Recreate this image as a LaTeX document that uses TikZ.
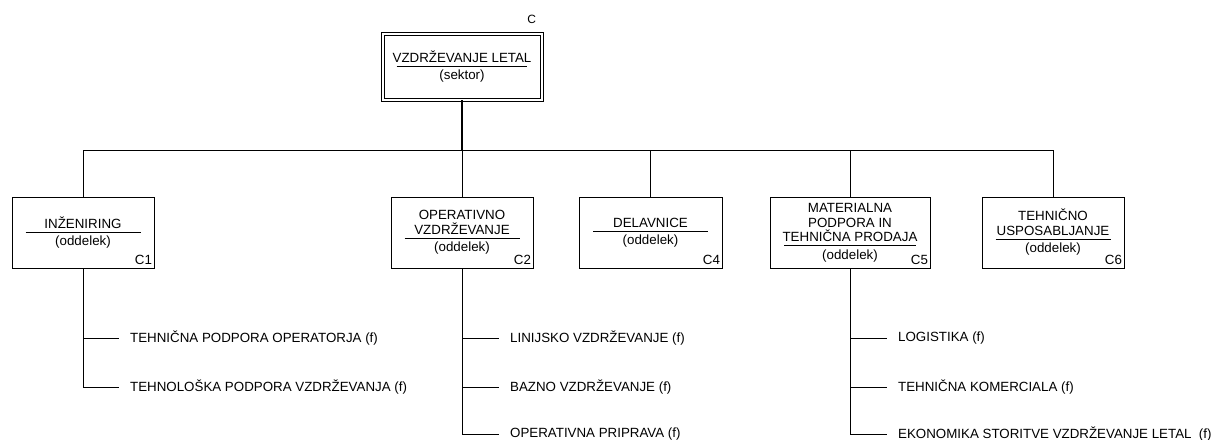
\documentclass[tikz,border=0pt]{standalone}
\usepackage{fontspec}
\setmainfont{Liberation Sans}
\usetikzlibrary{positioning,calc}

\begin{document}
\begin{tikzpicture}
[x=0.75pt,y=-0.75pt,line width=0.75pt,
font=\fontsize{10pt}{11pt}\selectfont,
sektor/.style={draw,double,double distance=1.5pt,align=center,
  minimum width=119.25pt,minimum height=49.5pt,inner sep=0pt},
oddelek/.style={draw,align=center,minimum width=106.5pt,
  minimum height=53.25pt,inner sep=0pt},
oznaka/.style={anchor=base east,inner sep=0pt},
funkcija/.style={anchor=west,inner xsep=8pt,inner ysep=0pt}]
%%%%%%%%%%
\newcommand{\enota}[3]{#1\\[2pt]\rlap{\rule[9.75pt]{#2}{0.5pt}}\makebox[#2]{(#3)}}
\useasboundingbox (0,0) rectangle (1219,439);

%% sektor
\node[sektor] (vl) at (462,66.5) {\enota{VZDRŽEVANJE LETAL}{98pt}{sektor}};
\node[oznaka,font=\fontsize{9pt}{10pt}\selectfont] (vlc) at ($(vl.north east)+(-5.5,-9.5)$) {C};

%% oddelki
\node[oddelek] (c1) at (83,232.5) {\enota{INŽENIRING}{86.25pt}{oddelek}};
\node[oddelek] (c2) at (462,232.5) {\enota{OPERATIVNO\\VZDRŽEVANJE}{86.25pt}{oddelek}};
\node[oddelek,minimum width=107.25pt] (c4) at (650.5,232.5) {\enota{DELAVNICE}{86.25pt}{oddelek}};
\node[oddelek,minimum width=120pt] (c5) at (850,232.5) {\enota{MATERIALNA\\PODPORA IN\\TEHNIČNA PRODAJA}{99pt}{oddelek}};
\node[oddelek] (c6) at (1053,232.5) {\enota{TEHNIČNO\\USPOSABLJANJE}{86.25pt}{oddelek}};
\foreach \c/\t in {c1/C1,c2/C2,c4/C4,c5/C5,c6/C6}
  \node[oznaka] (\c o) at ($(\c.south east)+(-2,-4)$) {\t};

%% povezave
\coordinate (vodilo) at (462,150);
\draw[line width=1.1pt] (vl.south) -- (vodilo);
\foreach \c in {c1,c2,c4,c5,c6}
  \draw (vodilo) -| (\c.north);

%% funkcije
\node[funkcija] (f11) at (119,338) {TEHNIČNA PODPORA OPERATORJA (f)};
\node[funkcija] (f12) at (119,387) {TEHNOLOŠKA PODPORA VZDRŽEVANJA (f)};
\node[funkcija] (f21) at (499,338) {LINIJSKO VZDRŽEVANJE (f)};
\node[funkcija] (f22) at (499,387) {BAZNO VZDRŽEVANJE (f)};
\node[funkcija] (f23) at (499,434) {OPERATIVNA PRIPRAVA (f)};
\node[funkcija] (f51) at (887,338) {LOGISTIKA (f)};
\node[funkcija] (f52) at (887,387) {TEHNIČNA KOMERCIALA (f)};
\node[funkcija] (f53) at (887,434) {EKONOMIKA STORITVE VZDRŽEVANJE LETAL\ \ (f)};
\foreach \c/\f in {c1/f11,c1/f12,c2/f21,c2/f22,c2/f23,c5/f51,c5/f52,c5/f53}
  \draw (\c.south) |- (\f.west);
\end{tikzpicture}
\end{document}
